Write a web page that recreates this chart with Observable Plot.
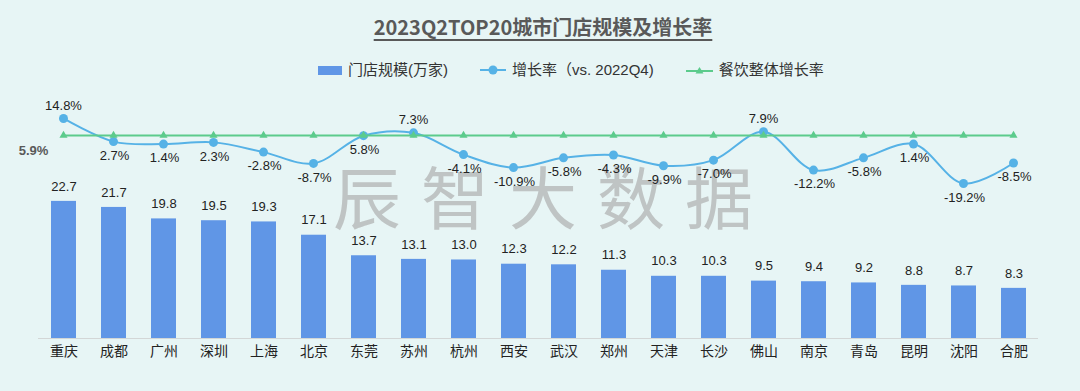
<!DOCTYPE html>
<html>
<head>
<meta charset="utf-8">
<script src="https://cdn.jsdelivr.net/npm/d3@7"></script>
<script src="https://cdn.jsdelivr.net/npm/@observablehq/plot@0.6"></script>
<style>
  html, body { margin: 0; padding: 0; }
  body {
    width: 1080px; height: 391px; overflow: hidden; position: relative;
    background: #e7f5f5;
    font-family: "Liberation Sans", Arial, "Noto Sans CJK SC", sans-serif;
    color: #333;
  }
  #title {
    position: absolute; top: 13px; left: 0; width: 1080px; text-align: center;
    font-family: "Noto Sans CJK SC", sans-serif; font-weight: 700; font-size: 20px;
    color: #595959; text-decoration: underline; text-underline-offset: 4px;
    line-height: 28px; padding-left: 6px; box-sizing: border-box;
  }
  #legend {
    position: absolute; top: 60px; left: 318px; display: flex; align-items: center;
    font-size: 15px; color: #333; line-height: 20px; white-space: nowrap;
  }
  #legend .item { display: flex; align-items: center; margin-right: 32px; }
  #legend svg { margin-right: 6px; }
  #watermark {
    position: absolute; left: 333px; top: 160px;
    font-family: "Noto Sans CJK SC", sans-serif; font-size: 68px; letter-spacing: 20px;
    color: #bfc4c4; line-height: 70px; white-space: nowrap;
  }
  #chart { position: absolute; top: 88px; left: 0; width: 1080px; height: 303px; }
  #chart > svg, #chart > figure { position: absolute; top: 0; left: 0; margin: 0; }
</style>
</head>
<body>
<div id="title"></div>
<div id="legend"></div>
<div id="watermark">辰智大数据</div>
<div id="chart"></div>
<script>
// ---- data ----
const titleText = "2023Q2TOP20城市门店规模及增长率";
const seriesNames = ["门店规模(万家)", "增长率（vs. 2022Q4)", "餐饮整体增长率"];
const cities = ["重庆","成都","广州","深圳","上海","北京","东莞","苏州","杭州","西安",
                "武汉","郑州","天津","长沙","佛山","南京","青岛","昆明","沈阳","合肥"];
const storeScale = [22.7,21.7,19.8,19.5,19.3,17.1,13.7,13.1,13.0,12.3,
                    12.2,11.3,10.3,10.3,9.5,9.4,9.2,8.8,8.7,8.3];
const growthRate = [14.8,2.7,1.4,2.3,-2.8,-8.7,5.8,7.3,-4.1,-10.9,
                    -5.8,-4.3,-9.9,-7.0,7.9,-12.2,-5.8,1.4,-19.2,-8.5];
const industryGrowth = 5.9;

// ---- colours ----
const barColor = "#6096e6";
const lineColor = "#56b2e6";
const greenColor = "#5ccb8c";

const rows = cities.map((c, i) => ({city: c, store: storeScale[i], growth: growthRate[i], industry: industryGrowth}));

document.getElementById("title").textContent = titleText;

// legend
const legend = document.getElementById("legend");
const swatches = [
  `<svg width="24" height="10"><rect x="0" y="1" width="24" height="9" fill="${barColor}"/></svg>`,
  `<svg width="26" height="12"><line x1="0" y1="6" x2="26" y2="6" stroke="${lineColor}" stroke-width="2"/><circle cx="13" cy="6" r="4.5" fill="${lineColor}"/></svg>`,
  `<svg width="27" height="12"><line x1="0" y1="7" x2="27" y2="7" stroke="${greenColor}" stroke-width="2"/><path d="M13.5,3 L17.5,9.5 L9.5,9.5 Z" fill="${greenColor}"/></svg>`
];
seriesNames.forEach((n, i) => {
  const d = document.createElement("div");
  d.className = "item";
  d.innerHTML = swatches[i] + `<span>${n}</span>`;
  legend.appendChild(d);
});

const W = 1080, H = 303;
const common = {
  width: W, height: H, marginLeft: 38, marginRight: 42, marginTop: 0, marginBottom: 53,
  style: {background: "transparent", fontFamily: '"Liberation Sans", Arial, "Noto Sans CJK SC", sans-serif', color: "#333", overflow: "visible"}
};

// bars + axis
const barPlot = Plot.plot({
  ...common,
  x: {type: "band", domain: cities, paddingInner: 0.5, paddingOuter: 0.25, label: null},
  y: {domain: [0, 25], range: [250, 99], axis: null},
  marks: [
    Plot.barY(rows, {x: "city", y: "store", fill: barColor}),
    Plot.ruleY([0], {stroke: "#d3d6d6", strokeWidth: 1}),
    Plot.text(rows, {x: "city", y: "store", text: d => d.store.toFixed(1), dy: -15, fontSize: 13, fill: "#222"}),
    Plot.axisX({tickSize: 0, tickPadding: 8, label: null, fontSize: 14, fill: "#222", fontFamily: '"Noto Sans CJK SC", sans-serif'})
  ]
});

// lines
const linePlot = Plot.plot({
  ...common,
  x: {type: "point", domain: cities, padding: 0.5, axis: null},
  y: {domain: [-20, 15], range: [96.5, 29.6], axis: null},
  marks: [
    Plot.line(rows, {x: "city", y: "growth", curve: "catmull-rom", stroke: lineColor, strokeWidth: 2}),
    Plot.dot(rows, {x: "city", y: "growth", r: 4.5, fill: lineColor}),
    Plot.line(rows, {x: "city", y: "industry", stroke: greenColor, strokeWidth: 2}),
    Plot.dot(rows, {x: "city", y: "industry", symbol: "triangle", r: 3, fill: greenColor}),
    Plot.text(rows.filter(d => d.growth > d.industry), {x: "city", y: "growth", text: d => d.growth.toFixed(1) + "%", dy: -13, fontSize: 13, fill: "#222"}),
    Plot.text(rows.filter(d => d.growth <= d.industry), {x: "city", y: "growth", text: d => d.growth.toFixed(1) + "%", dy: 14, dx: 1, fontSize: 13, fill: "#222"}),
    Plot.text(rows.slice(0, 1), {x: "city", y: "industry", text: d => d.industry.toFixed(1) + "%", dx: -30, dy: 15, fontSize: 13, fontWeight: "bold", fill: "#595959"})
  ]
});

const chart = document.getElementById("chart");
chart.appendChild(barPlot);
chart.appendChild(linePlot);
</script>
</body>
</html>
